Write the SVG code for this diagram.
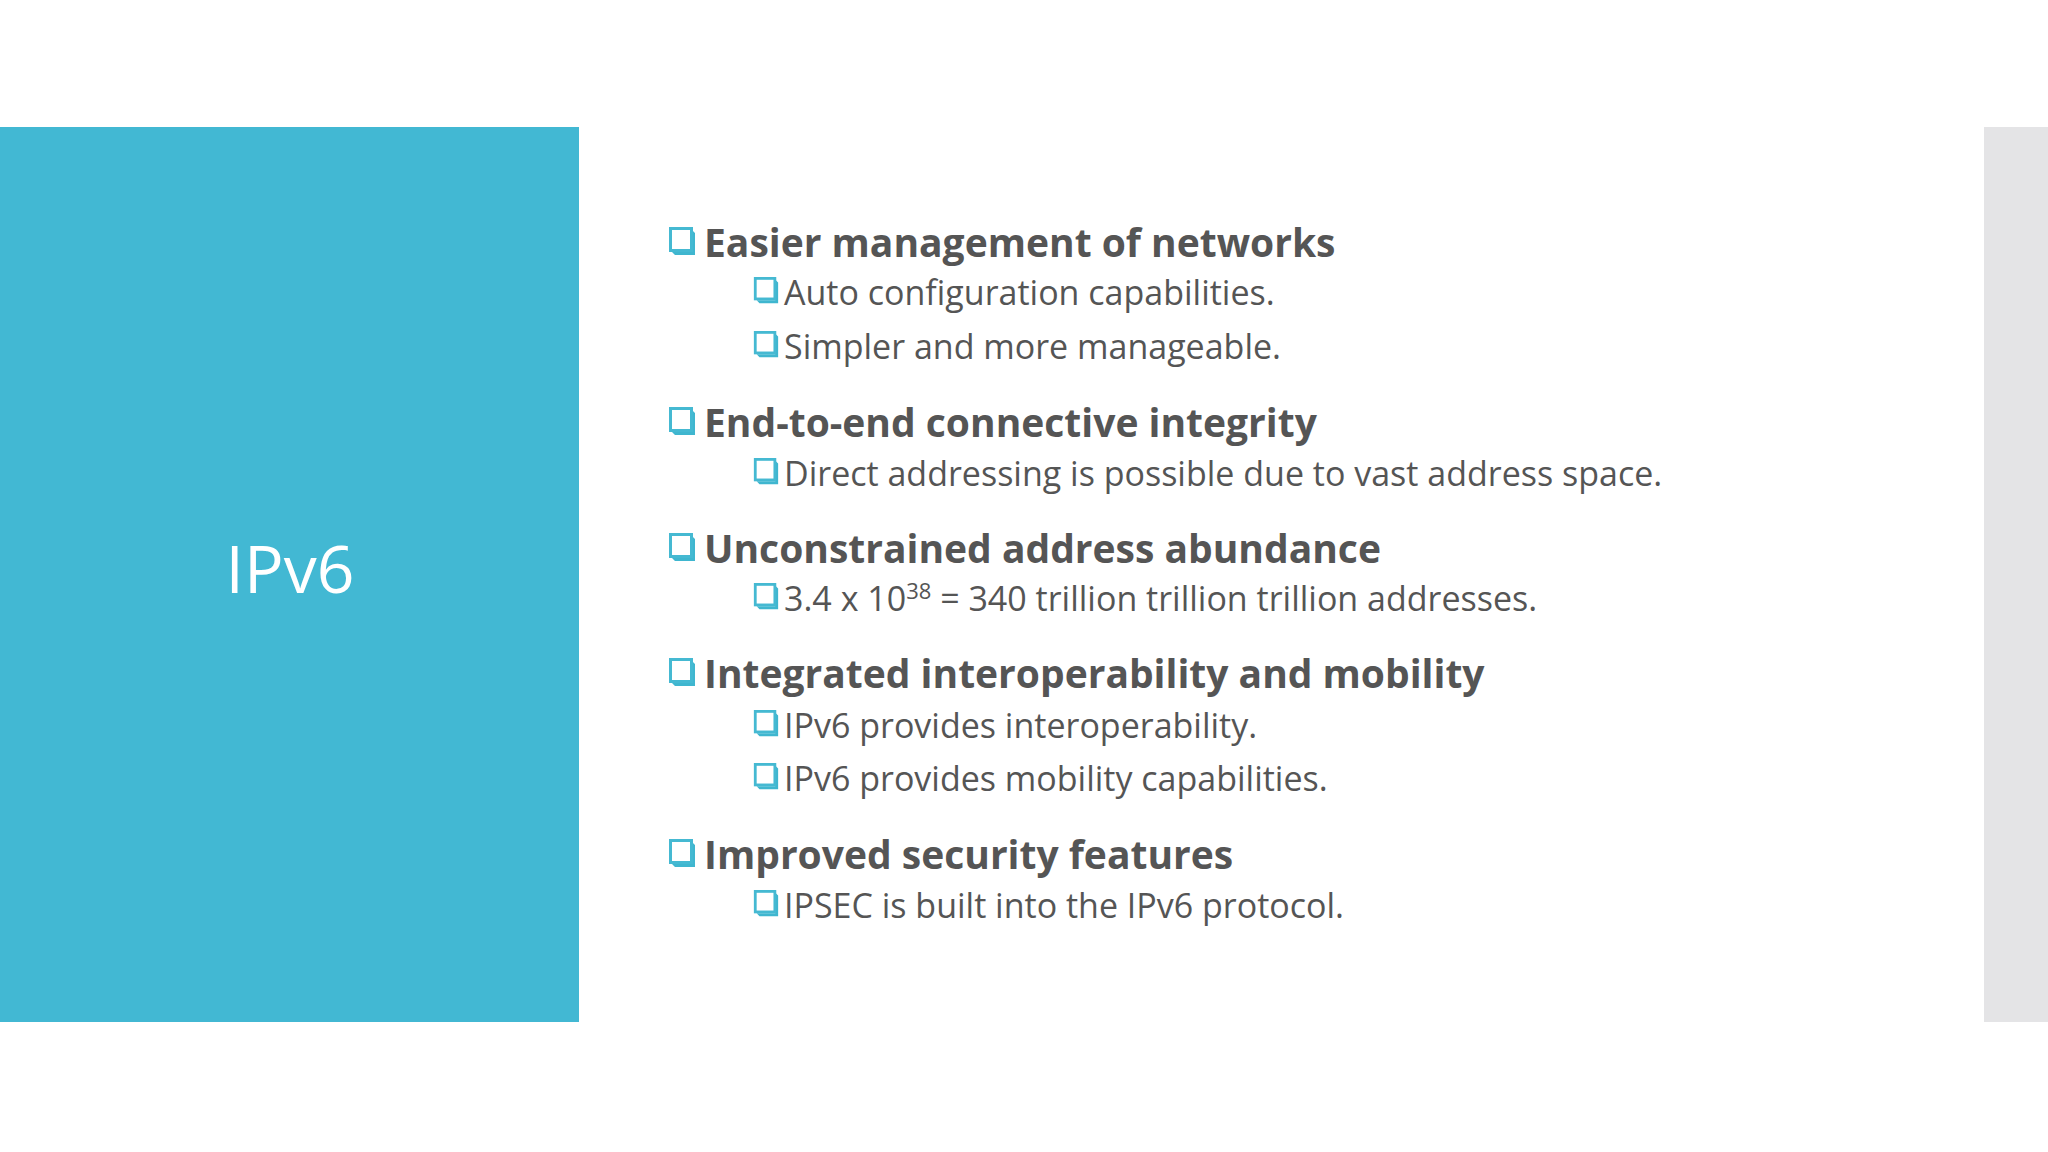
<svg xmlns="http://www.w3.org/2000/svg" xmlns:xlink="http://www.w3.org/1999/xlink" width="2048" height="1152" viewBox="0 0 2048 1152">
<style>
.h{font-family:"Open Sans","Liberation Sans",sans-serif;font-weight:bold;font-size:39px;fill:#555}
.s{font-family:"Open Sans","Liberation Sans",sans-serif;font-size:34px;fill:#555}
</style>
<defs>
<symbol id="cb" viewBox="0 0 26 30" overflow="visible">
<polygon points="3,25 23,25 23,3 26,6 26,28 6,28" fill="#3fb6cf"/>
<rect x="1.5" y="1.5" width="21" height="22" fill="#fff" stroke="#45b9d2" stroke-width="3"/>
</symbol>
</defs>
<rect width="2048" height="1152" fill="#fff"/>
<rect x="0" y="127" width="579" height="895" fill="#42b8d3"/>
<rect x="1984" y="127" width="64" height="895" fill="#e4e4e6"/>
<g id="title"><text x="290" y="593" text-anchor="middle" font-family="'Open Sans','Liberation Sans',sans-serif" font-size="66" fill="#fff">IPv6</text></g>
<g id="b1"><use href="#cb" x="669" y="227" width="26" height="30"/><text class="h" x="704" y="257">Easier management of networks</text></g>
<g id="b1a"><use href="#cb" x="753" y="277" width="26" height="28"/><text class="s" x="784" y="305">Auto configuration capabilities.</text></g>
<g id="b1b"><use href="#cb" x="753" y="331" width="26" height="28"/><text class="s" x="784" y="359">Simpler and more manageable.</text></g>
<g id="b2"><use href="#cb" x="669" y="407" width="26" height="30"/><text class="h" x="704" y="437">End-to-end connective integrity</text></g>
<g id="b2a"><use href="#cb" x="753" y="458" width="26" height="28"/><text class="s" x="784" y="486">Direct addressing is possible due to vast address space.</text></g>
<g id="b3"><use href="#cb" x="669" y="533" width="26" height="30"/><text class="h" x="704" y="563">Unconstrained address abundance</text></g>
<g id="b3a"><use href="#cb" x="753" y="583" width="26" height="28"/><text class="s" x="784" y="611">3.4 x 10<tspan dy="-12" font-size="22">38</tspan><tspan dy="12"> = 340 trillion trillion trillion addresses.</tspan></text></g>
<g id="b4"><use href="#cb" x="669" y="658" width="26" height="30"/><text class="h" x="704" y="688">Integrated interoperability and mobility</text></g>
<g id="b4a"><use href="#cb" x="753" y="710" width="26" height="28"/><text class="s" x="784" y="738">IPv6 provides interoperability.</text></g>
<g id="b4b"><use href="#cb" x="753" y="763" width="26" height="28"/><text class="s" x="784" y="791">IPv6 provides mobility capabilities.</text></g>
<g id="b5"><use href="#cb" x="669" y="839" width="26" height="30"/><text class="h" x="704" y="869">Improved security features</text></g>
<g id="b5a"><use href="#cb" x="753" y="890" width="26" height="28"/><text class="s" x="784" y="918">IPSEC is built into the IPv6 protocol.</text></g>
<g id="connectors"/>
</svg>
